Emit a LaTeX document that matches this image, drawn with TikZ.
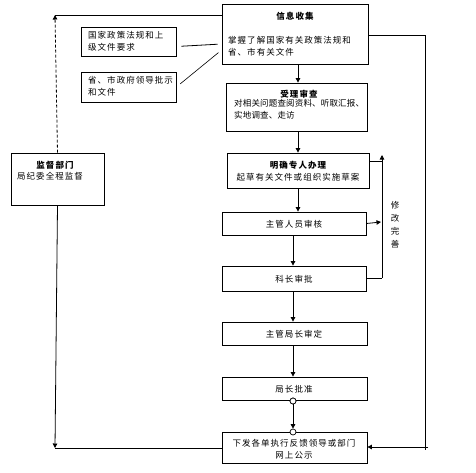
\documentclass[tikz,border=0pt]{standalone}
\usepackage{fontspec}
\setmainfont{Noto Sans CJK SC}[LetterSpace=12]
\usetikzlibrary{arrows.meta}
\begin{document}
\begin{tikzpicture}[x=1pt,y=-1pt,
  box/.style={draw, line width=0.8pt, inner sep=0pt},
  txt/.style={inner sep=0pt, font=\fontsize{8.5}{12}\selectfont},
  ttl/.style={inner sep=0pt, font=\fontsize{8.5}{12}\selectfont\bfseries},
  conn/.style={line width=0.8pt},
  arr/.style={line width=0.8pt, -{Triangle[length=4.5pt,width=4.5pt]}},
  dot/.style={circle, draw, fill=white, line width=0.7pt, inner sep=0pt, minimum size=6pt}]
\useasboundingbox (0,0) rectangle (476,472);
% boxes
\node[box, minimum width=146pt, minimum height=60pt] (b1) at (295,34) {};
\node[box, minimum width=95pt, minimum height=29pt] (b2) at (128.5,41.5) {};
\node[box, minimum width=95pt, minimum height=30pt] (b3) at (128.5,87) {};
\node[box, minimum width=141pt, minimum height=48pt] (b4) at (296.5,107) {};
\node[box, minimum width=93pt, minimum height=52pt] (jd) at (57.5,179) {};
\node[box, minimum width=142pt, minimum height=35pt] (b5) at (298,170.5) {};
\node[box, minimum width=144pt, minimum height=23pt] (b6) at (294,223.5) {};
\node[box, minimum width=144pt, minimum height=25pt] (b7) at (294,278.5) {};
\node[box, minimum width=145pt, minimum height=23pt] (b8) at (294.5,333.5) {};
\node[box, minimum width=145pt, minimum height=23pt] (b9) at (294.5,388.5) {};
\node[box, minimum width=145pt, minimum height=31pt] (b10) at (294.5,447.5) {};
% texts
\node[ttl] (t1) at (295,16) {信息收集};
\node[txt, anchor=north west, align=left] (t1b) at (228,36) {掌握了解国家有关政策法规和\\省、市有关文件};
\node[txt, anchor=north west, align=left] (t2) at (88,31) {国家政策法规和上\\级文件要求};
\node[txt, anchor=north west, align=left] (t3) at (88,76) {省、市政府领导批示\\和文件};
\node[ttl] (t4) at (299,94) {受理审查};
\node[txt, anchor=north west, align=left, font=\fontsize{8.5}{12}\selectfont\addfontfeature{LetterSpace=2}] (t4b) at (234,99) {对相关问题查阅资料、听取汇报、\\实地调查、走访};
\node[ttl] (tj) at (55,165) {监督部门};
\node[txt, anchor=west] (tjb) at (17,176) {局纪委全程监督};
\node[ttl] (t5) at (298,165) {明确专人办理};
\node[txt] (t5b) at (298,177) {起草有关文件或组织实施草案};
\node[txt] (t6) at (294,224) {主管人员审核};
\node[txt] (t7) at (294,279) {科长审批};
\node[txt] (t8) at (294,334) {主管局长审定};
\node[txt] (t9) at (294,389) {局长批准};
\node[txt, align=center] (t10) at (294,449) {下发各单执行反馈领导或部门\\网上公示};
\node[txt, align=center, font=\fontsize{8.5}{13}\selectfont] (xg) at (395,224.5) {修\\改\\完\\善};
% coordinates
\coordinate (tl) at (55,15);
\coordinate (bl) at (55,448);
\coordinate (tr) at (425,35);
\coordinate (br) at (425,447);
\coordinate (fbtop) at (382,155);
\coordinate (fbbot) at (382,278);
\coordinate (fbmid) at (382,161);
% connectors from source boxes
\draw[conn, shorten <=5pt, shorten >=4pt] ([yshift=-5pt]b2.east) -- ([yshift=-10pt]b1.west);
\draw[conn, line width=0.6pt, shorten <=5pt, shorten >=4pt] (b3.east) -- ([yshift=-16pt]b1.west);
% main chain
\draw[arr] (b1.south -| 298,0) -- (b4.north -| 298,0);
\draw[arr] (b4.south -| 298,0) -- (b5.north -| 298,0);
\draw[arr] (b5.south -| 298,0) -- (b6.north -| 298,0);
\draw[arr] (b6.south -| 293,0) -- (b7.north -| 293,0);
\draw[arr] (b7.south -| 293,0) -- (b8.north -| 293,0);
\draw[arr] (b8.south -| 293,0) -- (b9.north -| 293,0);
\node[dot] (d1) at (293,401) {};
\node[dot] (d2) at (293,432) {};
\draw[arr] (d1) -- (d2.north);
\node[dot] at (293,401) {};
% feedback loop
\draw[arr] (b6.east) -- (381,222);
\draw[conn] (b7.east |- fbbot) -- (fbbot);
\draw[arr] (fbbot) -- (fbtop);
\draw[conn] (b5.east |- fbmid) -- (fbmid);
% left supervision
\draw[arr, dash pattern=on 3pt off 2pt] (jd.north) -- (tl);
\draw[conn] (tl) -- (b1.west |- tl);
\draw[arr] (jd.south) -- (bl);
\draw[conn] (b10.west |- bl) -- (bl);
% right line
\draw[conn] (b1.east |- tr) -- (tr) -- (425,450);
\draw[arr] (428,447) -- (b10.east |- br);
\end{tikzpicture}
\end{document}
